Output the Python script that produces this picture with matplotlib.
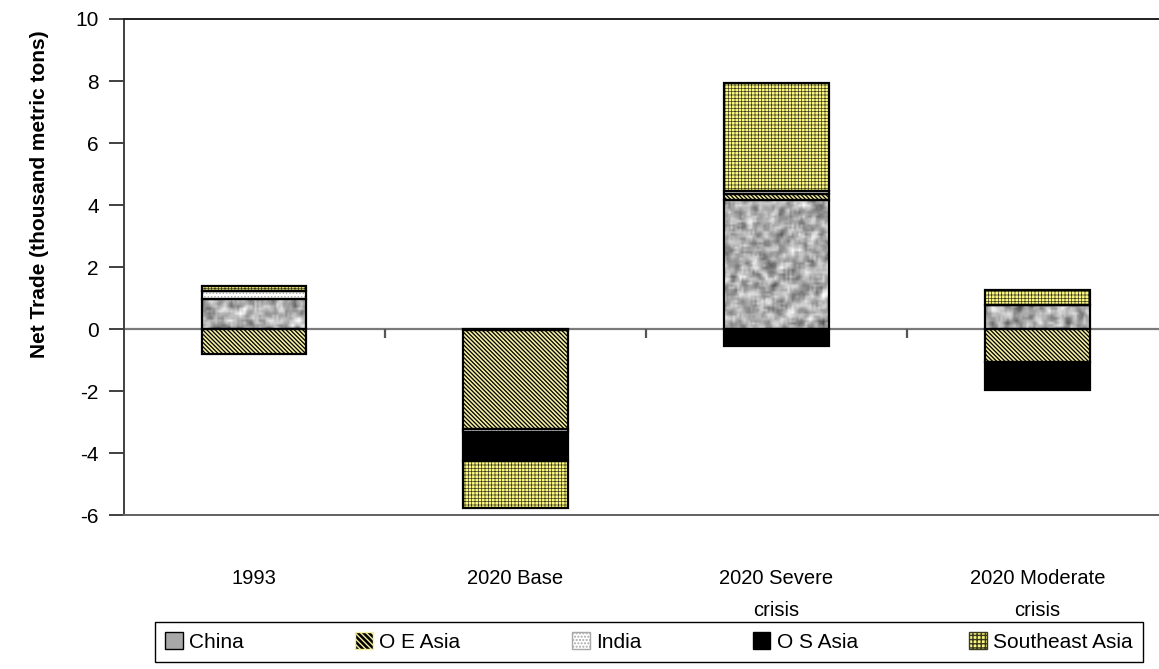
import numpy as np
import matplotlib
matplotlib.use("Agg")
import matplotlib.pyplot as plt
from matplotlib.patches import Patch

plt.rcParams['font.family'] = ['Liberation Sans', 'DejaVu Sans']
plt.rcParams['axes.unicode_minus'] = False

# Scenario categories and regional net trade (thousand metric tons)
categories = ["1993", "2020 Base", "2020 Severe\ncrisis", "2020 Moderate\ncrisis"]
china = [0.97, -0.03, 4.15, 0.77]
oe_asia = [-0.80, -3.20, 0.21, -1.07]
india = [0.25, -0.08, 0.09, 0.02]
os_asia = [0.0, -0.95, -0.53, -0.90]
southeast_asia = [0.17, -1.50, 3.50, 0.48]

series_names = ["China", "O E Asia", "India", "O S Asia", "Southeast Asia"]
series_values = [china, oe_asia, india, os_asia, southeast_asia]
yticks = [-6, -4, -2, 0, 2, 4, 6, 8, 10]

W, H = 1159, 669
fig = plt.figure(figsize=(W / 100, H / 100), dpi=100)
ax = fig.add_axes([123.7 / W, (H - 515.3) / H, (1168 - 123.7) / W, (515.3 - 19) / H])

# fill / hatch styling per region: (face, hatch colour, hatch, hatch width)
styles = [
    ("#b4b4b4", "#8a8a8a", None, 0.5),
    ("#000000", "#f4efa2", "\\" * 8, 1.2),
    ("#ffffff", "#a8a8a8", ".....", 0.5),
    ("#000000", "#000000", None, 0.5),
    ("#fbf67e", "#3a3a20", "+" * 5, 0.5),
]


def mottled(nx, ny, shift):
    """Soft grey speckle used to fill the China segments."""
    yy, xx = np.mgrid[0:ny + 4, 0:nx + 4].astype(float)
    v = np.sin(xx * 12.9898 + yy * 78.233 + shift) * 43758.5453
    v = v - np.floor(v)
    out = np.zeros((ny, nx))
    for dy in range(3):
        for dx in range(3):
            out += v[dy:dy + ny, dx:dx + nx]
    out /= 9.0
    return out


x = np.arange(len(categories))
width = 0.40
pos_base = np.zeros(len(categories))
neg_base = np.zeros(len(categories))

for k, (name, vals) in enumerate(zip(series_names, series_values)):
    vals = np.asarray(vals, dtype=float)
    bottoms = np.where(vals >= 0, pos_base, neg_base)
    face, hcol, hatch, hlw = styles[k]
    bars = ax.bar(x, vals, width, bottom=bottoms, color=face,
                  edgecolor=hcol, linewidth=0, hatch=hatch, zorder=2)
    for b in bars:
        if hasattr(b, "set_hatch_linewidth"):
            b.set_hatch_linewidth(hlw)
    if k == 0:
        for i, b in enumerate(bars):
            h = b.get_height()
            if abs(h) < 1e-9:
                continue
            y0, y1 = sorted([b.get_y(), b.get_y() + h])
            npx_h = max(int(abs(h) * 31 / 2.2), 2)
            tex = mottled(48, npx_h, i * 3.7)
            im = ax.imshow(tex, extent=(b.get_x(), b.get_x() + b.get_width(), y0, y1),
                           cmap='gray', vmin=-0.1, vmax=0.8, aspect='auto',
                           interpolation='bilinear', zorder=2.1)
            im.set_clip_path(b)
    ax.bar(x, vals, width, bottom=bottoms, fill=False, edgecolor='black',
           linewidth=1.6, zorder=3)
    pos_base = pos_base + np.where(vals >= 0, vals, 0)
    neg_base = neg_base + np.where(vals < 0, vals, 0)

ax.set_xlim(-0.5, len(categories) - 0.5)
ax.set_ylim(-6, 10)
ax.set_yticks(yticks)
ax.set_yticklabels([str(t) for t in yticks])

# category axis drawn at zero
ax.axhline(0, color='#7a7a7a', lw=1.6, zorder=1)
ax.vlines(np.arange(len(categories)) + 0.5, -0.27, 0, color='#555555', lw=1.6, zorder=1)

ax.set_xticks(x)
ax.set_xticklabels(categories, fontsize=14.5, linespacing=1.85)
ax.tick_params(axis='x', length=0, pad=39)
ax.tick_params(axis='y', length=11, width=1.4, color='#404040', labelsize=15, pad=7)

for side in ['left', 'top', 'bottom']:
    ax.spines[side].set_linewidth(1.4)
ax.spines['left'].set_color('#404040')
ax.spines['top'].set_color('#202020')
ax.spines['bottom'].set_color('#606060')
ax.spines['right'].set_visible(False)

fig.text(40 / W, (H - 194) / H, "Net Trade (thousand metric tons)", rotation=90,
         ha='center', va='center', fontsize=15, fontweight='bold')

handles = []
for k, name in enumerate(series_names):
    face, hcol, hatch, hlw = styles[k]
    if k == 0:
        p = Patch(facecolor='#a8a8a8', edgecolor='black', linewidth=1.0, label=name)
    elif k == 1:
        p = Patch(facecolor=face, edgecolor=hcol, hatch="\\" * 6, linewidth=1.0, label=name)
    elif k == 4:
        p = Patch(facecolor=face, edgecolor=hcol, hatch="+" * 4, linewidth=1.0, label=name)
    else:
        p = Patch(facecolor=face, edgecolor=hcol if hatch else 'black',
                  hatch=hatch, linewidth=1.0, label=name)
    handles.append(p)
leg = fig.legend(handles=handles, loc='center', bbox_to_anchor=(649 / W, (H - 642) / H),
                 ncol=5, frameon=True, fancybox=False, framealpha=1, edgecolor='black',
                 fontsize=15, handlelength=0.85, handleheight=0.85, handletextpad=0.3,
                 columnspacing=5.35, borderpad=0.5)
leg.get_frame().set_linewidth(1.0)

fig.savefig("out.png", dpi=100)
